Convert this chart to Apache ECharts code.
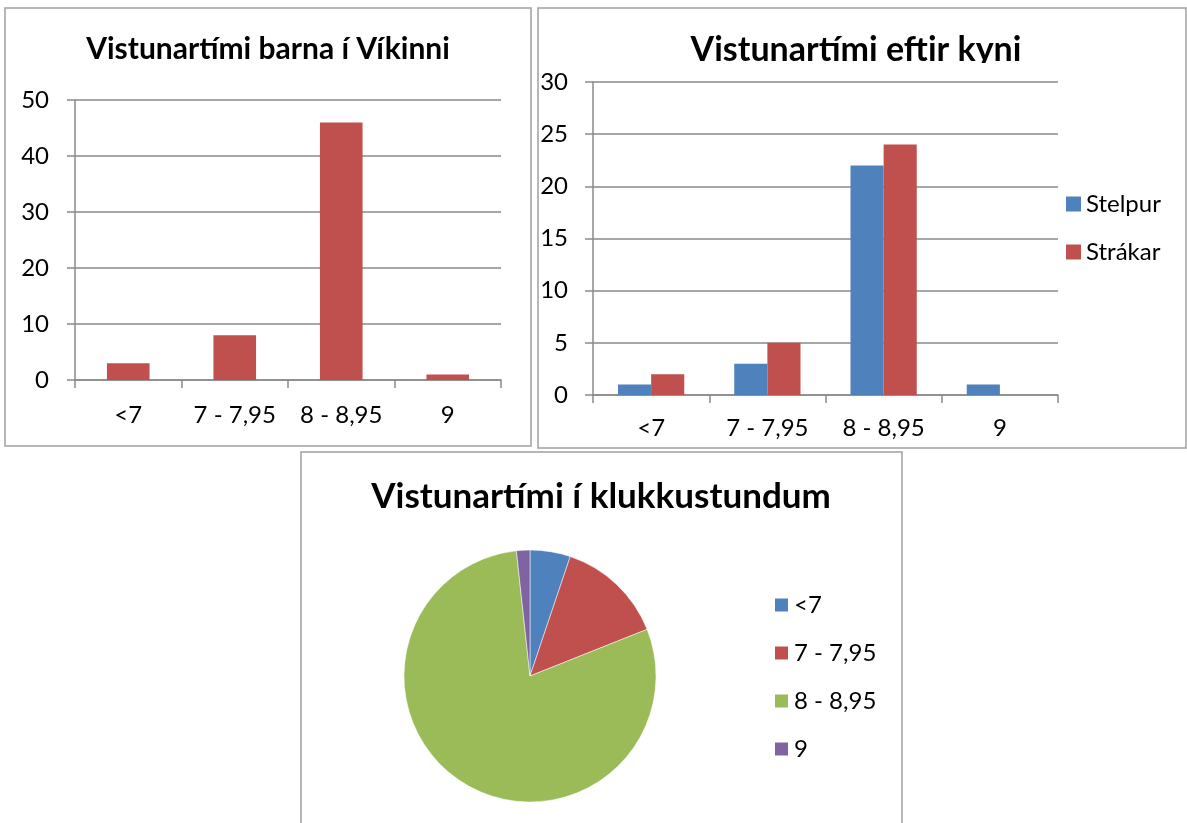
<!DOCTYPE html>
<html>
<head>
<meta charset="utf-8">
<title>Vistunartími</title>
<script src="https://cdn.jsdelivr.net/npm/echarts@6/dist/echarts.min.js"></script>
<style>
  body { margin: 0; background: #fff; }
  #main { width: 1187px; height: 823px; }
</style>
</head>
<body>
<div id="main"></div>
<script>
// data
var categories = ['<7', '7 - 7,95', '8 - 8,95', '9'];
var allKids = [3, 8, 46, 1];      // Vistunartími barna í Víkinni
var girls = [1, 3, 22, 1];        // Stelpur
var boys = [2, 5, 24, 0];         // Strákar

var BLUE = '#4F81BD', RED = '#C0504D', GREEN = '#9BBB59', PURPLE = '#8064A2';
var FONT = 'Lato, "Open Sans", sans-serif';
var GRID = '#8a8a8a';

function valueAxis(gridIndex, max, interval, margin) {
  return {
    type: 'value', gridIndex: gridIndex, min: 0, max: max, interval: interval,
    axisLine: { show: true, lineStyle: { color: GRID, width: 1.5 } },
    axisTick: { show: true, length: 8, lineStyle: { color: GRID, width: 1.5 } },
    splitLine: { lineStyle: { color: GRID, width: 1.5 } },
    axisLabel: { color: '#000', fontSize: 24, fontFamily: FONT, margin: margin }
  };
}
function catAxis(gridIndex, margin) {
  return {
    type: 'category', gridIndex: gridIndex, data: categories,
    axisLine: { lineStyle: { color: GRID, width: 1.5 } },
    axisTick: { show: true, length: 8, lineStyle: { color: GRID, width: 1.5 } },
    axisLabel: { color: '#000', fontSize: 24, fontFamily: FONT, margin: margin,
      interval: 0, hideOverlap: false }
  };
}
function legendStyle() {
  return { fontSize: 24, color: '#000', fontFamily: FONT };
}

var chart = echarts.init(document.getElementById('main'));
chart.setOption({
  animation: false,
  color: [BLUE, RED, GREEN, PURPLE],
  textStyle: { fontFamily: FONT },
  title: [
    { text: 'Vistunartími barna í Víkinni', left: 268, top: 49, padding: 0,
      textAlign: 'center', textVerticalAlign: 'middle',
      textStyle: { fontSize: 30, fontWeight: 'bold', color: '#000', fontFamily: FONT } },
    { text: 'Vistunartími eftir kyni', left: 856, top: 50, padding: 0,
      textAlign: 'center', textVerticalAlign: 'middle',
      textStyle: { fontSize: 34, fontWeight: 'bold', color: '#000', fontFamily: FONT } },
    { text: 'Vistunartími í klukkustundum', left: 601, top: 497, padding: 0,
      textAlign: 'center', textVerticalAlign: 'middle',
      textStyle: { fontSize: 35, fontWeight: 'bold', color: '#000', fontFamily: FONT } }
  ],
  legend: [
    { data: ['Stelpur', 'Strákar'], orient: 'vertical', left: 1066, top: 192,
      itemWidth: 15, itemHeight: 15, itemGap: 24, icon: 'rect', padding: 0,
      textStyle: legendStyle() },
    { data: categories, orient: 'vertical', left: 773, top: 593,
      itemWidth: 15, itemHeight: 15, itemGap: 24, icon: 'rect', padding: 0,
      textStyle: legendStyle() }
  ],
  grid: [
    { left: 75, top: 100, width: 426, height: 280 },
    { left: 593, top: 82, width: 465, height: 313 }
  ],
  xAxis: [catAxis(0, 23), catAxis(1, 21)],
  yAxis: [valueAxis(0, 50, 10, 26), valueAxis(1, 30, 5, 25)],
  series: [
    { type: 'bar', name: 'Fjöldi', xAxisIndex: 0, yAxisIndex: 0, data: allKids,
      barCategoryGap: '60%', itemStyle: { color: RED } },
    { type: 'bar', name: 'Stelpur', xAxisIndex: 1, yAxisIndex: 1, data: girls,
      barGap: '0%', barCategoryGap: '43%', itemStyle: { color: BLUE } },
    { type: 'bar', name: 'Strákar', xAxisIndex: 1, yAxisIndex: 1, data: boys,
      barGap: '0%', barCategoryGap: '43%', itemStyle: { color: RED } },
    { type: 'pie', name: 'Vistunartími', center: [530, 676], radius: 126,
      startAngle: 90, clockwise: true,
      label: { show: false }, labelLine: { show: false },
      itemStyle: { borderColor: '#fff', borderWidth: 0.5 },
      data: categories.map(function (c, i) { return { name: c, value: allKids[i] }; }) }
  ],
  graphic: [
    { type: 'rect', shape: { x: 5, y: 8, width: 526, height: 438 },
      style: { fill: 'none', stroke: '#a0a0a0', lineWidth: 1.5 } },
    { type: 'rect', shape: { x: 538, y: 8, width: 648, height: 440 },
      style: { fill: 'none', stroke: '#a0a0a0', lineWidth: 1.5 } },
    { type: 'rect', shape: { x: 301, y: 452, width: 601, height: 380 },
      style: { fill: 'none', stroke: '#a0a0a0', lineWidth: 1.5 } },
    // the second title is cut off at its bottom edge in the original
    { type: 'rect', z: 100, shape: { x: 660, y: 63, width: 390, height: 17 },
      style: { fill: '#fff' } }
  ]
});
</script>
</body>
</html>
